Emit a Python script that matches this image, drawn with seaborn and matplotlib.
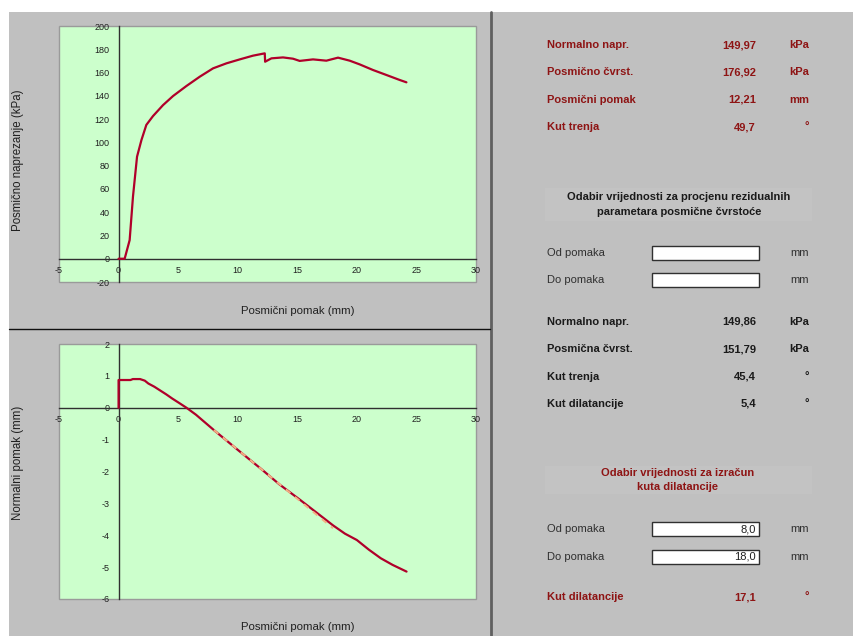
import matplotlib
matplotlib.use("Agg")
import matplotlib.pyplot as plt
from matplotlib.patches import Rectangle
import seaborn as sns

sns.set_style("white")
plt.rcParams['font.family'] = ['Liberation Sans', 'DejaVu Sans']
plt.rcParams['axes.unicode_minus'] = False

# ---------------- data ----------------
shear_x = [0, 0.51, 0.93, 1.21, 1.55, 1.92, 2.33, 2.89, 3.73, 4.57, 5.69, 6.81,
           7.93, 9.05, 10.17, 11.28, 12.27, 12.3, 12.83, 13.8, 14.64, 15.2,
           16.32, 17.44, 18.42, 19.4, 20.24, 21.35, 22.48, 23.6, 24.16]
shear_y = [0, 0, 16, 53.5, 87.7, 102, 115, 122.6, 132, 139.8, 148.4, 156.4,
           163.6, 167.9, 171.3, 174.5, 176.5, 169.3, 172.2, 173.0, 171.9, 170.0,
           171.3, 170.2, 172.8, 170.2, 167.0, 162.2, 157.9, 153.6, 151.6]

norm_x = [0, 0, 1.0, 1.2, 1.8, 2.2, 2.5, 3.0, 3.5, 4.0, 4.5, 5.0, 5.7, 6.5,
          8.0, 10.0, 12.0, 13.52, 15.2, 17.0, 18.0, 19.0, 20.0, 21.0, 22.0,
          23.0, 24.17]
norm_y = [0, 0.87, 0.87, 0.90, 0.90, 0.85, 0.76, 0.66, 0.54, 0.42, 0.29, 0.17,
          0.0, -0.22, -0.70, -1.32, -1.93, -2.41, -2.88, -3.40, -3.69, -3.95,
          -4.15, -4.45, -4.72, -4.93, -5.14]

fit_x = [8.0, 18.0]
fit_y = [-0.70, -3.78]

x_ticks = [-5, 0, 5, 10, 15, 20, 25, 30]
shear_ticks = [-20, 0, 20, 40, 60, 80, 100, 120, 140, 160, 180, 200]
norm_ticks = [-6, -5, -4, -3, -2, -1, 0, 1, 2]

peak_labels = ["Normalno napr.", "Posmično čvrst.", "Posmični pomak", "Kut trenja"]
peak_values = ["149,97", "176,92", "12,21", "49,7"]
peak_units = ["kPa", "kPa", "mm", "°"]

resid_labels = ["Normalno napr.", "Posmična čvrst.", "Kut trenja", "Kut dilatancije"]
resid_values = ["149,86", "151,79", "45,4", "5,4"]
resid_units = ["kPa", "kPa", "°", "°"]

dil_from, dil_to = "8,0", "18,0"
dil_value = "17,1"

# ---------------- figure ----------------
W, H = 854, 636
fig = plt.figure(figsize=(W / 100, H / 100), dpi=100, facecolor='white')

def fx(x):
    return x / W

def fy(y):
    return 1 - y / H

GRAY = '#C0C0C0'
RED = '#B0002A'
DARKRED = '#8E1414'
GREEN = '#CCFFCC'

fig.patches.append(Rectangle((fx(9), 0), 1 - fx(9), fy(12), transform=fig.transFigure,
                             facecolor=GRAY, edgecolor='none', zorder=-5))
# dividers
fig.add_artist(plt.Line2D([fx(491), fx(491)], [0, fy(12)], transform=fig.transFigure,
                          color='#606060', linewidth=2))
fig.add_artist(plt.Line2D([fx(9), fx(490)], [fy(328.5), fy(328.5)], transform=fig.transFigure,
                          color='#101010', linewidth=1))


def make_axes(top, bottom):
    ax = fig.add_axes([fx(59), fy(bottom), fx(476) - fx(59), fy(top) - fy(bottom)])
    ax.set_facecolor(GREEN)
    ax.set_zorder(1)
    return ax


def style_axes(ax, yticks, ylim):
    ax.set_xlim(-5, 30)
    ax.set_ylim(*ylim)
    ax.set_xticks(x_ticks)
    ax.set_yticks(yticks)
    ax.spines['left'].set_position(('data', 0))
    ax.spines['bottom'].set_position(('data', 0))
    ax.spines['top'].set_visible(False)
    ax.spines['right'].set_visible(False)
    for s in ('left', 'bottom'):
        ax.spines[s].set_color('#303030')
        ax.spines[s].set_linewidth(1.0)
        ax.spines[s].set_zorder(1)
    ax.tick_params(axis='both', direction='out', length=3, width=0.8, color='#303030',
                   labelsize=6.5, labelcolor='#202020', pad=2.5)
    ax.tick_params(axis='y', pad=3.5)
    ax.set_xlabel('')
    ax.set_ylabel('')
    ax.grid(False)
    ax.add_patch(Rectangle((0, 0), 1, 1, transform=ax.transAxes, fill=False,
                           edgecolor='#9A9A9A', linewidth=1.0, clip_on=False, zorder=0.5))


# top chart
ax1 = make_axes(26, 282)
sns.lineplot(x=shear_x, y=shear_y, ax=ax1, color=RED, linewidth=1.6,
             sort=False, estimator=None, zorder=3)
style_axes(ax1, shear_ticks, (-20, 200))

# bottom chart
ax2 = make_axes(344, 599)
sns.lineplot(x=norm_x, y=norm_y, ax=ax2, color=RED, linewidth=1.6,
             sort=False, estimator=None, zorder=3)
sns.lineplot(x=fit_x, y=fit_y, ax=ax2, color='#F4B183', linewidth=1.4,
             sort=False, estimator=None, zorder=4, dashes=False)
ax2.lines[-1].set_dashes([3, 3])
style_axes(ax2, norm_ticks, (-6, 2))

# axis titles
fig.text(fx(18), fy(160), 'Posmično naprezanje (kPa)', rotation=90, ha='center', va='center',
         fontsize=8.3, color='#202020')
fig.text(fx(298), fy(311), 'Posmični pomak (mm)', ha='center', va='center',
         fontsize=8.2, color='#202020')
fig.text(fx(18), fy(463), 'Normalni pomak (mm)', rotation=90, ha='center', va='center',
         fontsize=8.3, color='#202020')
fig.text(fx(298), fy(627), 'Posmični pomak (mm)', ha='center', va='center',
         fontsize=8.2, color='#202020')

# ---------------- right panel ----------------
LX, VX, UX = 547.5, 756, 809
FS = 8


def row(y, label, value, unit, color, bold=True):
    w = 'bold' if bold else 'normal'
    fig.text(fx(LX), fy(y), label, ha='left', va='center', fontsize=FS, color=color, fontweight=w)
    fig.text(fx(VX), fy(y), value, ha='right', va='center', fontsize=FS, color=color, fontweight=w)
    fig.text(fx(UX), fy(y), unit, ha='right', va='center', fontsize=FS, color=color, fontweight=w)


for y, l, v, u in zip([45, 72.3, 100, 127.3], peak_labels, peak_values, peak_units):
    row(y, l, v, u, DARKRED)

# header 1
fig.patches.append(Rectangle((fx(545), fy(221)), fx(812) - fx(545), fy(188) - fy(221),
                             transform=fig.transFigure, facecolor='#C3C3C3', edgecolor='none', zorder=0.5))
fig.text(fx(679), fy(197), 'Odabir vrijednosti za procjenu rezidualnih', ha='center', va='center',
         fontsize=FS, color='#1A1A1A', fontweight='bold')
fig.text(fx(679), fy(212), 'parametara posmične čvrstoće', ha='center', va='center',
         fontsize=FS, color='#1A1A1A', fontweight='bold')


def input_row(y, label, value):
    fig.text(fx(LX), fy(y), label, ha='left', va='center', fontsize=FS, color='#303030')
    fig.patches.append(Rectangle((fx(652), fy(y + 7)), fx(759) - fx(652), fy(y - 7) - fy(y + 7),
                                 transform=fig.transFigure, facecolor='white',
                                 edgecolor='#303030', linewidth=1.0, zorder=1))
    if value:
        fig.text(fx(756), fy(y), value, ha='right', va='center', fontsize=FS, color='#202020')
    fig.text(fx(UX), fy(y), 'mm', ha='right', va='center', fontsize=FS, color='#303030')


input_row(252.7, 'Od pomaka', '')
input_row(280.3, 'Do pomaka', '')

for y, l, v, u in zip([321.7, 349, 376.7, 404], resid_labels, resid_values, resid_units):
    row(y, l, v, u, '#1A1A1A')

# header 2
fig.patches.append(Rectangle((fx(545), fy(494)), fx(812) - fx(545), fy(466) - fy(494),
                             transform=fig.transFigure, facecolor='#C3C3C3', edgecolor='none', zorder=0.5))
fig.text(fx(678), fy(473.3), 'Odabir vrijednosti za izračun', ha='center', va='center',
         fontsize=FS, color=DARKRED, fontweight='bold')
fig.text(fx(678), fy(487), 'kuta dilatancije', ha='center', va='center',
         fontsize=FS, color=DARKRED, fontweight='bold')

input_row(529, 'Od pomaka', dil_from)
input_row(556.7, 'Do pomaka', dil_to)

row(597.3, 'Kut dilatancije', dil_value, '°', DARKRED)

fig.savefig('out.png', dpi=100, facecolor='white')
